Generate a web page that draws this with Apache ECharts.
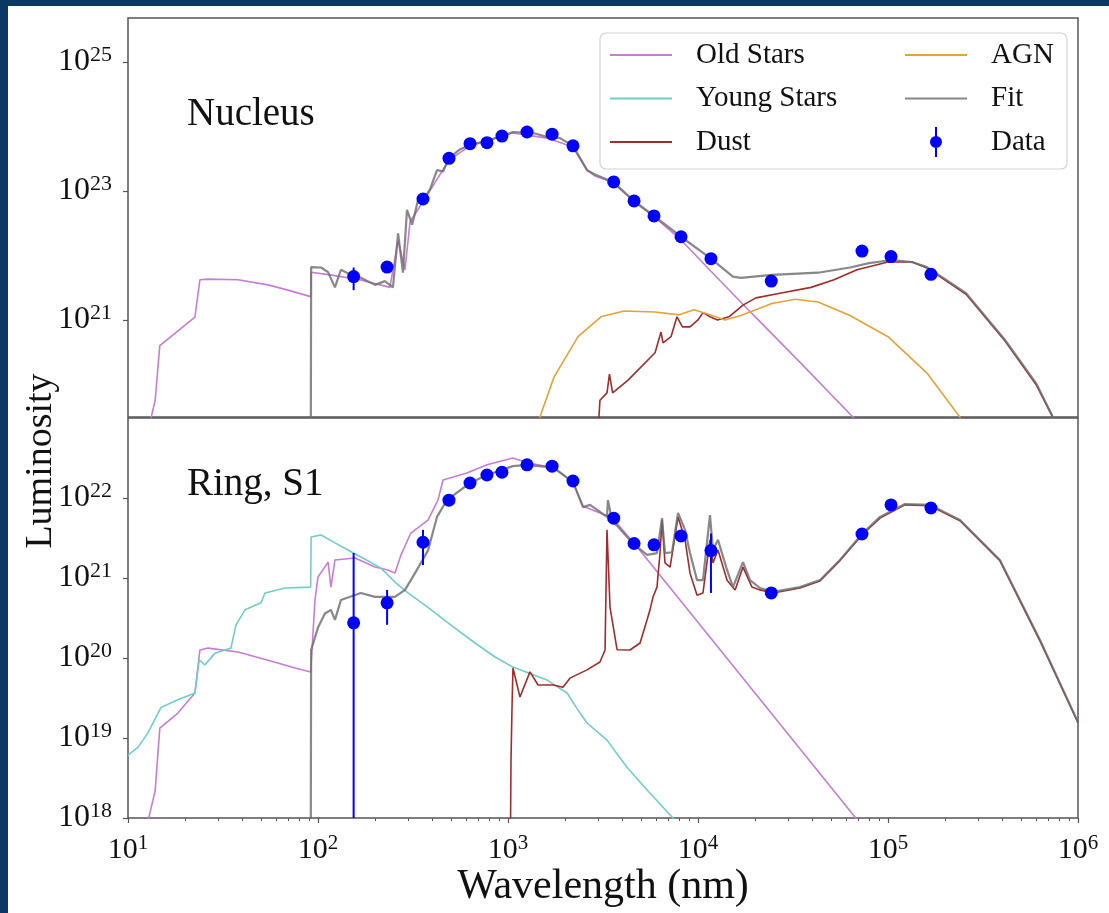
<!DOCTYPE html>
<html><head><meta charset="utf-8">
<script src="https://cdn.jsdelivr.net/npm/echarts@6/dist/echarts.min.js"></script>
<style>
html,body{margin:0;padding:0;background:#0a3764;width:1109px;height:913px;overflow:hidden}
#chart{position:absolute;left:8px;top:6px;width:1101px;height:907px;background:#fff}
</style></head><body><div id="chart"></div>
<script>
// ---------- DATA (wavelength in nm, luminosity) ----------
const xTickValues = [10, 100, 1000, 10000, 100000, 1000000];
const minorTickDecades = [10, 100, 1000, 10000, 100000];
const minorTickMultipliers = [2, 3, 4, 5, 6, 7, 8, 9];
const nucleusYTicks = [1e21, 1e23, 1e25];
const ringYTicks = [1e18, 1e19, 1e20, 1e21, 1e22];

const bandWavelengths = [154, 231, 357, 489, 631, 775, 929, 1259, 1706, 2198, 3600, 4607, 5866, 8140, 11700, 24300, 72950, 103700, 168300];

// Nucleus panel
const nucleusData = [4.7e21, 6.6e21, 7.5e22, 3.2e23, 5.4e23, 5.6e23, 7.1e23, 8.2e23, 7.6e23, 5.0e23, 1.38e23, 7.0e22, 4.1e22, 1.95e22, 8.9e21, 4.0e21, 1.17e22, 9.6e21, 5.1e21];
const nucleusErrLow  = [2.9e21, null, null, null, null, null, null, null, null, null, null, null, null, null, null, null, null, null, null];
const nucleusErrHigh = [6.5e21, null, null, null, null, null, null, null, null, null, null, null, null, null, null, null, null, null, null];

const nucleusOldStars = [[12.5,1.5e19],[13.9,5.7e19],[14.7,4.0e20],[22.5,1.11e21],[23.9,4.2e21],[26.4,4.3e21],[37.9,4.2e21],[54.6,3.5e21],[69.5,2.9e21],[91.5,2.3e21],
  [92,5.5e21],[116,5.0e21],[166,4.2e21],[239,3.2e21],[264,1.7e22],[287,6.0e21],[305,3.3e22],[357,6.8e22],[489,3.0e23],[631,5.0e23],[1061,7.9e23],[1604,6.6e23],[2198,4.8e23],[2606,2.1e23],[2871,1.7e23],[3570,1.35e23],[4607,6.8e22],[5866,4.0e22],[8140,1.74e22],[11700,5.7e21],[18640,1.38e21],[34430,2.2e20],[65500,3.1e19],[80400,1.65e19]];

const nucleusFit = [[91.5,1e18],[92,6.6e21],[103.8,6.5e21],[113,5.5e21],[122.8,3.2e21],[132,6.0e21],[147,5.1e21],[168,4.5e21],[199.5,3.5e21],[225,4.0e21],[248,3.2e21],[264,2.2e22],[280,5.4e21],[294,5.1e22],[313,3.0e22],[336,7.2e22],[357,7.2e22],[388,1.05e23],[423,2.1e23],[455,2.0e23],[489,3.2e23],[558,4.4e23],[631,5.2e23],[775,6.0e23],[929,7.1e23],[1061,8.2e23],[1355,7.9e23],[1604,6.9e23],[1879,6.6e23],[2198,5.0e23],[2606,2.1e23],[2871,1.8e23],[3570,1.38e23],[4607,7.0e22],[5866,4.1e22],[8140,1.95e22],[11700,8.9e21],[15270,4.7e21],[16820,4.5e21],[24480,5.0e21],[42820,5.4e21],[63100,6.5e21],[79400,7.6e21],[105000,8.5e21],[133700,7.9e21],[160300,6.6e21],[257600,2.6e21],[413000,4.9e20],[601000,1.05e20],[738000,3.1e19],[803000,1.9e19]];

const nucleusDust = [[2979,1.9e19],[3048,5.7e19],[3319,7.4e19],[3420,1.45e20],[3554,7.4e19],[4285,1.17e20],[5943,3.1e20],[6387,6.5e20],[6546,4.4e20],[7211,5.5e20],[7748,1.12e21],[8285,7.8e20],[9075,7.8e20],[10000,1.0e21],[10620,1.3e21],[11560,1.12e21],[12670,1.0e21],[14550,1.12e21],[17240,1.7e21],[20190,2.2e21],[27010,2.6e21],[39380,3.2e21],[51980,4.2e21],[68710,6.0e21],[100000,7.9e21],[133700,7.9e21],[160300,6.4e21],[257600,2.5e21],[413000,4.7e20],[601000,1.0e20],[803000,1.9e19]];

const nucleusAGN = [[1387,1.9e19],[1746,1.3e20],[2336,5.5e20],[3083,1.12e21],[4079,1.38e21],[5943,1.33e21],[7943,1.2e21],[9530,1.44e21],[11560,1.2e21],[13870,1.0e21],[16820,1.17e21],[24480,1.8e21],[32420,2.1e21],[42820,1.9e21],[63100,1.17e21],[100000,5.5e20],[160300,1.5e20],[239300,3.1e19],[254000,1.9e19]];

// Ring, S1 panel
const ringData = [2.75e20, 4.9e20, 2.8e21, 9.4e21, 1.54e22, 1.94e22, 2.1e22, 2.6e22, 2.5e22, 1.63e22, 5.6e21, 2.7e21, 2.6e21, 3.35e21, 2.2e21, 6.5e20, 3.55e21, 8.2e21, 7.5e21];
const ringErrLow  = [1e17, 2.6e20, 1.45e21, null, null, null, null, null, null, null, null, null, null, null, 6.5e20, null, null, null, null];
const ringErrHigh = [2.05e21, 7.1e20, 4.0e21, null, null, null, null, null, null, null, null, null, null, null, 3.6e21, null, null, null, null];

const ringOldStars = [[12.0,5e17],[13.9,2.2e18],[14.7,1.33e19],[18.3,2.05e19],[22.5,3.65e19],[23.9,1.26e20],[26.4,1.33e20],[37.9,1.19e20],[54.6,9.4e19],[75.7,7.5e19],[91.5,6.7e19],[96.4,5.3e20],[100,1.03e21],[113,1.58e21],[117,7.7e20],[122.8,1.68e21],[156.6,1.78e21],[199.5,1.37e21],[233.5,1.26e21],[254,1.15e21],[273.5,1.95e21],[308,3.65e21],[379,5.3e21],[428,9.4e21],[455,1.68e22],[608,2.05e22],[775,2.6e22],[1061,3.16e22],[1259,2.75e22],[1725,2.4e22],[2198,1.58e22],[2483,7.9e21],[3319,6.0e21],[3570,5.5e21],[4775,2.45e21],[67000,1.03e18],[72950,7.9e17]];

const ringYoungStars = [[10,6.1e18],[11.3,7.7e18],[12.7,1.15e19],[14.9,2.4e19],[18.3,3.0e19],[22.5,3.65e19],[23.7,9.4e19],[25.4,8.2e19],[28.7,1.15e20],[34.8,1.33e20],[37.0,2.6e20],[41.3,4.0e20],[50.1,4.9e20],[52.6,6.5e20],[67.0,7.5e20],[91.5,7.7e20],[92,3.25e21],[103.8,3.45e21],[122.8,2.75e21],[143.8,2.24e21],[168.3,1.83e21],[214.6,1.33e21],[254,8.9e20],[297.6,6.5e20],[379,4.3e20],[483,2.75e20],[670,1.54e20],[855,1.03e20],[1061,7.7e19],[1604,5.3e19],[2046,3.65e19],[2393,2.05e19],[2606,1.54e19],[3319,9.4e18],[4227,4.3e18],[5395,2.24e18],[7298,1.03e18],[8035,7.7e17]];

const ringDust = [[1025,1e17],[1037,5.3e18],[1050,2.45e19],[1062,7.5e19],[1156,3.25e19],[1305,6.7e19],[1439,4.6e19],[1725,4.6e19],[1946,4.3e19],[2118,5.6e19],[2606,7.1e19],[3048,8.9e19],[3241,1.26e20],[3319,4.0e21],[3443,4.3e20],[3750,1.27e20],[4385,1.26e20],[4955,1.54e20],[5395,3.0e20],[5590,4.0e20],[5798,5.8e20],[6083,7.7e20],[6310,2.05e21],[6468,5.3e21],[6702,1.54e21],[7130,1.37e21],[7852,5.8e21],[8551,3.0e21],[9075,1.15e21],[9886,6.1e20],[10620,6.5e20],[11560,3.0e21],[11990,1.54e21],[12740,2.24e21],[14220,9.4e20],[15680,7.1e20],[17250,1.37e21],[19240,7.7e20],[21190,7.1e20],[24830,6.5e20],[34410,7.5e20],[43850,9.2e20],[55850,1.65e21],[73800,3.55e21],[90800,5.6e21],[122800,8.2e21],[166300,8.0e21],[239300,5.2e21],[388000,1.65e21],[631000,1.63e20],[1000000,1.55e19]];

const ringFit = [[91.5,1e17],[92,1.26e20],[100,2.4e20],[108.8,3.6e20],[117,4.0e20],[122.8,3.0e20],[132,5.3e20],[168,6.5e20],[199.5,5.8e20],[254,5.8e20],[287,7.1e20],[324,1.15e21],[379,2.2e21],[423,5.8e21],[477,9.4e21],[631,1.54e22],[775,1.94e22],[1061,2.5e22],[1259,2.6e22],[1740,2.4e22],[2198,1.58e22],[2483,7.7e21],[2704,8.2e21],[3319,5.8e21],[3357,9.4e21],[3526,5.3e21],[4550,2.7e21],[5395,1.95e21],[6083,2.05e21],[6468,5.6e21],[6702,2.05e21],[7298,2.1e21],[7852,6.5e21],[8551,4.0e21],[9075,2.05e21],[9886,9.4e20],[10620,9.4e20],[11560,6.1e21],[11990,2.24e21],[12740,3.0e21],[14220,1.26e21],[15280,7.7e20],[17250,1.58e21],[18780,9.4e20],[21190,7.5e20],[24830,6.7e20],[34410,7.7e20],[43850,9.4e20],[55850,1.68e21],[73800,3.65e21],[90800,5.8e21],[122800,8.4e21],[166300,8.2e21],[239300,5.3e21],[388000,1.68e21],[631000,1.68e20],[1000000,1.58e19]];

// ---------- STYLE ----------
const FONT = '"Liberation Serif", "Times New Roman", serif';
const C = { old: '#c77dd6', young: '#6fcfc8', dust: '#a02c2c', agn: '#e6a23a', fit: 'rgba(110,110,110,0.82)', data: '#0000ff' };
const minorTicks = [];
minorTickDecades.forEach(d => minorTickMultipliers.forEach(m => minorTicks.push(d * m)));

const supFmt = v => '{b|10}{s|' + Math.round(Math.log10(v)) + '}';
const yRich = { b: { fontSize: 32, lineHeight: 36, fontFamily: FONT, color: '#111' },
                s: { fontSize: 22, lineHeight: 22, verticalAlign: 'top', fontFamily: FONT, color: '#111' } };
const xRich = { b: { fontSize: 30, lineHeight: 34, fontFamily: FONT, color: '#111' },
                s: { fontSize: 21, lineHeight: 21, verticalAlign: 'top', fontFamily: FONT, color: '#111' } };

const pairs = (xs, ys) => xs.map((x, i) => [x, ys[i]]);
const errTriples = (xs, lo, hi) => xs.map((x, i) => (lo[i] == null ? null : [x, lo[i], hi[i]])).filter(Boolean);

function errRender(params, api) {
  const x = api.value(0), lo = api.value(1), hi = api.value(2);
  const p1 = api.coord([x, hi]), p2 = api.coord([x, lo]);
  const cs = params.coordSys;
  const clampY = y => Math.max(cs.y, Math.min(cs.y + cs.height, y));
  return { type: 'line', shape: { x1: p1[0], y1: clampY(p1[1]), x2: p2[0], y2: clampY(p2[1]) },
           style: { stroke: C.data, lineWidth: 2 } };
}

function lineSeries(name, data, color, gi, width) {
  return { name, type: 'line', xAxisIndex: gi, yAxisIndex: gi, data, showSymbol: false, symbol: 'none',
           clip: true, silent: true, animation: false, color,
           lineStyle: { color, width: width || 1.6 } };
}

const series = [
  lineSeries('Old Stars', nucleusOldStars, C.old, 0),
  lineSeries('Dust', nucleusDust, C.dust, 0),
  lineSeries('AGN', nucleusAGN, C.agn, 0),
  lineSeries('Fit', nucleusFit, C.fit, 0, 2.2),
  { name: 'Data errors', type: 'custom', xAxisIndex: 0, yAxisIndex: 0, renderItem: errRender,
    data: errTriples(bandWavelengths, nucleusErrLow, nucleusErrHigh), encode: { x: 0, y: [1, 2] }, animation: false, z: 5 },
  { name: 'Data', type: 'scatter', xAxisIndex: 0, yAxisIndex: 0, data: pairs(bandWavelengths, nucleusData),
    symbolSize: 13, itemStyle: { color: C.data, opacity: 1 }, animation: false, z: 6 },

  lineSeries('Old Stars', ringOldStars, C.old, 1),
  lineSeries('Young Stars', ringYoungStars, C.young, 1),
  lineSeries('Dust', ringDust, C.dust, 1),
  lineSeries('Fit', ringFit, C.fit, 1, 2.2),
  { name: 'Data errors', type: 'custom', xAxisIndex: 1, yAxisIndex: 1, renderItem: errRender,
    data: errTriples(bandWavelengths, ringErrLow, ringErrHigh), encode: { x: 0, y: [1, 2] }, animation: false, z: 5 },
  { name: 'Data', type: 'scatter', xAxisIndex: 1, yAxisIndex: 1, data: pairs(bandWavelengths, ringData),
    symbolSize: 13, itemStyle: { color: C.data, opacity: 1 }, animation: false, z: 6 }
];

const lineIcon = 'path://M0,0M81,30M0,14L62,14L62,16L0,16Z';
const dataIcon = 'path://M0,0M81,30M30,0L32,0L32,30L30,30ZM37,15A6,6,0,1,1,25,15A6,6,0,1,1,37,15Z';
const legendCommon = { orient: 'vertical', top: 32, padding: 0, itemGap: 9.5, itemWidth: 81, itemHeight: 30,
  selectedMode: false, itemStyle: { borderWidth: 0, opacity: 1 }, z: 6,
  textStyle: { fontFamily: FONT, fontSize: 29, color: '#111', lineHeight: 34 } };

const option = {
  animation: false,
  backgroundColor: '#fff',
  grid: [
    { left: 120, top: 12, width: 950, height: 399, show: true, borderColor: '#555', borderWidth: 1.5, backgroundColor: 'transparent' },
    { left: 120, top: 412, width: 950, height: 400, show: true, borderColor: '#555', borderWidth: 1.5, backgroundColor: 'transparent' }
  ],
  xAxis: [
    { type: 'log', logBase: 10, gridIndex: 0, position: 'bottom', min: 10, max: 1e6, axisLine: { show: false }, axisTick: { show: false },
      axisLabel: { show: false }, splitLine: { show: false } },
    { type: 'log', logBase: 10, gridIndex: 1, position: 'bottom', min: 10, max: 1e6, axisLine: { show: false },
      axisTick: { show: true, length: 5, lineStyle: { color: '#555', width: 1.2 }, customValues: xTickValues },
      axisLabel: { show: true, margin: 15, formatter: supFmt, rich: xRich, customValues: xTickValues },
      splitLine: { show: false },
      name: 'Wavelength (nm)', nameLocation: 'middle', nameGap: 40,
      nameTextStyle: { fontFamily: FONT, fontSize: 42, lineHeight: 42, color: '#111' } },
    { type: 'log', logBase: 10, gridIndex: 1, position: 'bottom', offset: 0, min: 10, max: 1e6, axisLine: { show: false },
      axisTick: { show: true, length: 3, lineStyle: { color: '#555', width: 1 }, customValues: minorTicks },
      axisLabel: { show: false }, splitLine: { show: false } }
  ],
  yAxis: [
    { type: 'log', logBase: 10, gridIndex: 0, min: 3.13e19, max: 4.8e25, axisLine: { show: false },
      axisTick: { show: true, length: 5, lineStyle: { color: '#555', width: 1.2 }, customValues: nucleusYTicks },
      axisLabel: { show: true, margin: 16, formatter: supFmt, rich: yRich, customValues: nucleusYTicks },
      splitLine: { show: false } },
    { type: 'log', logBase: 10, gridIndex: 1, min: 1e18, max: 1e23, axisLine: { show: false },
      axisTick: { show: true, length: 5, lineStyle: { color: '#555', width: 1.2 }, customValues: ringYTicks },
      axisLabel: { show: true, margin: 16, formatter: supFmt, rich: yRich, customValues: ringYTicks },
      splitLine: { show: false } }
  ],
  legend: [
    Object.assign({}, legendCommon, { left: 602, data: [
      { name: 'Old Stars', icon: lineIcon }, { name: 'Young Stars', icon: lineIcon }, { name: 'Dust', icon: lineIcon }] }),
    Object.assign({}, legendCommon, { left: 897, data: [
      { name: 'AGN', icon: lineIcon }, { name: 'Fit', icon: lineIcon }, { name: 'Data', icon: dataIcon }] })
  ],
  graphic: [
    { type: 'rect', z: 4, shape: { x: 592, y: 27, width: 467, height: 136, r: 6 },
      style: { fill: 'rgba(255,255,255,0.85)', stroke: '#d4d4d4', lineWidth: 1.2 } },
    { type: 'text', z: 6, x: 179, y: 109, style: { text: 'Nucleus', font: '39px ' + FONT, fill: '#111', textAlign: 'left', textVerticalAlign: 'middle' } },
    { type: 'text', z: 6, x: 179, y: 479, style: { text: 'Ring, S1', font: '39px ' + FONT, fill: '#111', textAlign: 'left', textVerticalAlign: 'middle' } },
    { type: 'text', z: 6, x: 33, y: 455, rotation: Math.PI / 2, style: { text: 'Luminosity', font: '38px ' + FONT, fill: '#111', textAlign: 'center', textVerticalAlign: 'middle' } }
  ],
  series
};

const chart = echarts.init(document.getElementById('chart'), null, { renderer: 'canvas' });
chart.setOption(option);
</script>
</body></html>
